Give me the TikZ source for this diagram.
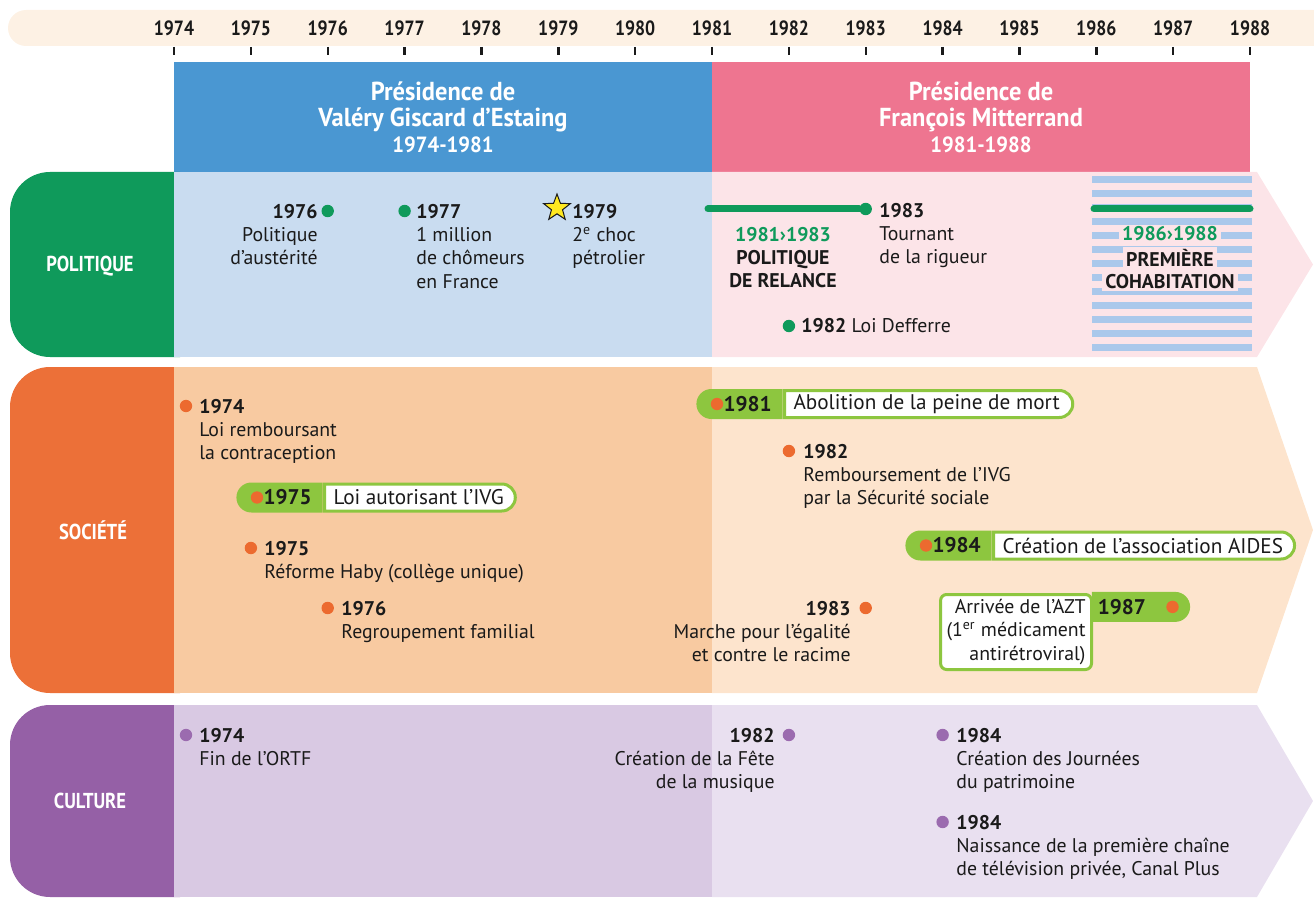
\documentclass[tikz,border=0pt]{standalone}
\usepackage{fontspec}
\setmainfont{PT Sans}
\newfontfamily\narrowfont[FakeStretch=0.86]{PT Sans}
\newfontfamily\titlefont[FakeStretch=0.94]{PT Sans}
\usetikzlibrary{positioning,shapes.geometric,shapes.misc}

\definecolor{ink}{HTML}{1A1A1A}
\definecolor{topbar}{HTML}{FDF1E4}
\definecolor{vgeblue}{HTML}{4A97D2}
\definecolor{fmpink}{HTML}{EE7590}
\definecolor{polgreen}{HTML}{0F9A5B}
\definecolor{pollight}{HTML}{C9DCF0}
\definecolor{polpink}{HTML}{FCE4E8}
\definecolor{stripe}{HTML}{AAC8EB}
\definecolor{socorange}{HTML}{EC7038}
\definecolor{socleft}{HTML}{F8CAA1}
\definecolor{socright}{HTML}{FDE4CD}
\definecolor{socdot}{HTML}{EC6A2F}
\definecolor{pillgreen}{HTML}{8DC63F}
\definecolor{culpurple}{HTML}{9560A6}
\definecolor{culleft}{HTML}{D9C9E3}
\definecolor{culright}{HTML}{E9E0F0}
\definecolor{culdot}{HTML}{9B6BAF}
\definecolor{staryellow}{HTML}{FFE81F}

\newcommand\evtsize{\fontsize{9.9}{11.6}\selectfont}
\newcommand\pillsize{\fontsize{10.6}{12}\selectfont}

\tikzset{
  yearlbl/.style={font=\narrowfont\bfseries\fontsize{10.3}{12}\selectfont, text=ink, inner sep=0pt},
  tickmark/.style={ink, line width=1.2pt},
  presid/.style={font=\titlefont\bfseries\fontsize{13}{13}\selectfont, text=white, align=center, inner sep=0pt},
  seclabel/.style={font=\narrowfont\bfseries\fontsize{10.8}{12}\selectfont, text=white, inner sep=0pt},
  evt/.style={font=\evtsize, text=ink, inner sep=0pt},
  evtl/.style={evt, align=left, anchor=north west},
  evtr/.style={evt, align=right, anchor=north east},
  evtc/.style={evt, align=center, anchor=north},
  evdot/.style={circle, inner sep=0pt, minimum size=6.2pt},
  greenbar/.style={polgreen, line width=3.5pt, line cap=round},
  cohab/.style={evt, font=\evtsize\bfseries, fill=polpink, inner xsep=1.5pt, inner ysep=1pt},
  pillyear/.style={rounded rectangle, rounded rectangle right arc=none, fill=pillgreen, minimum height=15pt, inner xsep=3pt, inner ysep=0pt, font=\pillsize\bfseries, text=ink},
  pilltxt/.style={rounded rectangle, rounded rectangle left arc=none, fill=white, draw=pillgreen, line width=1.5pt, minimum height=13.5pt, inner xsep=4.5pt, inner ysep=0pt, font=\pillsize, text=ink},
  aztbox/.style={evt, align=right, fill=white, draw=pillgreen, line width=1.5pt, rounded corners=3pt, inner xsep=3pt, inner ysep=2.5pt},
  aztyear/.style={pillyear, rounded rectangle left arc=none, rounded rectangle right arc=convex},
  starmark/.style={star, star points=5, star point ratio=2.4, minimum size=14pt, inner sep=0pt, fill=staryellow, draw=ink, line width=0.5pt}
}

\begin{document}
\begin{tikzpicture}[x=0.5pt,y=-0.5pt]
\useasboundingbox (0,0) rectangle (1314,899);
\clip (0,0) rectangle (1314,899);

\fill[topbar, rounded corners=9pt] (8,10) rectangle (1340,46);
\foreach \yr [count=\i from 0] in {1974,...,1988} {
  \node[yearlbl] (y\yr) at (174+76.86*\i,28) {\yr};
  \draw[tickmark] (174+76.86*\i,47) -- (174+76.86*\i,55);
}

\fill[vgeblue] (174,62) rectangle (712,172);
\fill[fmpink] (712,62) rectangle (1250,172);
\node[presid] (vge) at (443,117) {Présidence de\\Valéry Giscard d’Estaing\\{\fontsize{11}{12.5}\selectfont 1974-1981}};
\node[presid] (fm) at (981,117) {Présidence de\\François Mitterrand\\{\fontsize{11}{12.5}\selectfont 1981-1988}};

\fill[polgreen, rounded corners=20pt] (10,172) rectangle (220,357);
\fill[pollight] (174,172) rectangle (712,357);
\fill[polpink] (712,172) -- (1257,172) -- (1313,264.5) -- (1257,357) -- (712,357) -- cycle;
\foreach \s in {0,...,12} \fill[stripe] (1092,176+14*\s) rectangle (1252,183+14*\s);
\node[seclabel] (pol) at (90,266) {POLITIQUE};

\fill[socorange, rounded corners=20pt] (10,367) rectangle (220,693);
\fill[socleft] (174,367) rectangle (712,693);
\fill[socright] (712,367) -- (1257,367) -- (1313,530) -- (1257,693) -- (712,693) -- cycle;
\node[seclabel] (soc) at (93,530) {SOCIÉTÉ};

\fill[culpurple, rounded corners=20pt] (10,705) rectangle (220,897);
\fill[culleft] (174,705) rectangle (712,897);
\fill[culright] (712,705) -- (1257,705) -- (1313,801) -- (1257,897) -- (712,897) -- cycle;
\node[seclabel] (cul) at (90,801) {CULTURE};

\node[evdot, fill=polgreen] (d1976) at (327.7,211) {};
\node[evtr] (e1976) at (318,204) {\textbf{1976}\\Politique\\d’austérité};
\node[evdot, fill=polgreen] (d1977) at (404.6,211) {};
\node[evtl] (e1977) at (416,204) {\textbf{1977}\\1 million\\de chômeurs\\en France};
\node[starmark] (s1979) at (557,208) {};
\node[evtl] (e1979) at (572,204) {\textbf{1979}\\2\textsuperscript{e} choc\\pétrolier};
\coordinate (rel0) at (708,209);
\node[evdot, fill=polgreen] (d1983) at (865.7,209) {};
\draw[greenbar] (rel0) -- (d1983);
\node[evtl] (e1983) at (879,203) {\textbf{1983}\\Tournant\\de la rigueur};
\node[evtc] (relance) at (783,227) {\textbf{\textcolor{polgreen}{1981›1983}}\\\textbf{POLITIQUE}\\\textbf{DE RELANCE}};
\node[evdot, fill=polgreen] (d1982) at (788.9,326) {};
\node[evt, anchor=west] (e1982) at (801,326) {\textbf{1982} Loi Defferre};
\coordinate (coh0) at (1094,209);
\coordinate (coh1) at (1250,209);
\draw[greenbar] (coh0) -- (coh1);
\node[cohab, text=polgreen] (cohyr) at (1170,234) {1986›1988};
\node[cohab] (coha) at (1170,258) {PREMIÈRE};
\node[cohab] (cohb) at (1170,282) {COHABITATION};

\node[evdot, fill=socdot] (s1974) at (186,406) {};
\node[evtl] (es1974) at (199,399) {\textbf{1974}\\Loi remboursant\\la contraception};
\node[pillyear, anchor=west] (p1975) at (236,497.5) {\kern9.5pt 1975\kern2.5pt};
\node[pilltxt, right=0pt of p1975] (t1975) {Loi autorisant l’IVG};
\node[evdot, fill=socdot] (dp1975) at ([xshift=10.5pt]p1975.west) {};
\node[evdot, fill=socdot] (s1975) at (250.9,548) {};
\node[evtl] (es1975) at (264,541) {\textbf{1975}\\Réforme Haby (collège unique)};
\node[evdot, fill=socdot] (s1976) at (327.7,608) {};
\node[evtl] (es1976) at (341,601) {\textbf{1976}\\Regroupement familial};
\node[pillyear, anchor=west] (p1981) at (696,404) {\kern9.5pt 1981\kern2.5pt};
\node[pilltxt, right=0pt of p1981] (t1981) {Abolition de la peine de mort};
\node[evdot, fill=socdot] (dp1981) at ([xshift=10.5pt]p1981.west) {};
\node[evdot, fill=socdot] (s1982) at (788.9,451) {};
\node[evtl] (es1982) at (803,444) {\textbf{1982}\\Remboursement de l’IVG\\par la Sécurité sociale};
\node[pillyear, anchor=west] (p1984) at (905,545.5) {\kern9.5pt 1984\kern2.5pt};
\node[pilltxt, right=0pt of p1984] (t1984) {Création de l’association AIDES};
\node[evdot, fill=socdot] (dp1984) at ([xshift=10.5pt]p1984.west) {};
\node[evdot, fill=socdot] (s1983) at (865.7,608) {};
\node[evtr] (es1983) at (851,601) {\textbf{1983}\\Marche pour l’égalité\\et contre le racime};
\node[aztbox, anchor=north east] (azt) at (1093,593) {Arrivée de l’AZT\\(1\textsuperscript{er} médicament\\antirétroviral)};
\node[aztyear, anchor=north west] (p1987) at ([xshift=-0.75pt,yshift=0.75pt]azt.north east) {1987\kern18pt};
\node[evdot, fill=socdot] (dp1987) at ([xshift=-9pt]p1987.east) {};

\node[evdot, fill=culdot] (c1974) at (186,735) {};
\node[evtl] (ec1974) at (199,728) {\textbf{1974}\\Fin de l’ORTF};
\node[evdot, fill=culdot] (c1982) at (788.9,735) {};
\node[evtr] (ec1982) at (775,728) {\textbf{1982}\\Création de la Fête\\de la musique};
\node[evdot, fill=culdot] (c1984a) at (942.6,735) {};
\node[evtl] (ec1984a) at (956,728) {\textbf{1984}\\Création des Journées\\du patrimoine};
\node[evdot, fill=culdot] (c1984b) at (942.6,822) {};
\node[evtl] (ec1984b) at (956,815) {\textbf{1984}\\Naissance de la première chaîne\\de télévision privée, Canal Plus};
\end{tikzpicture}
\end{document}
